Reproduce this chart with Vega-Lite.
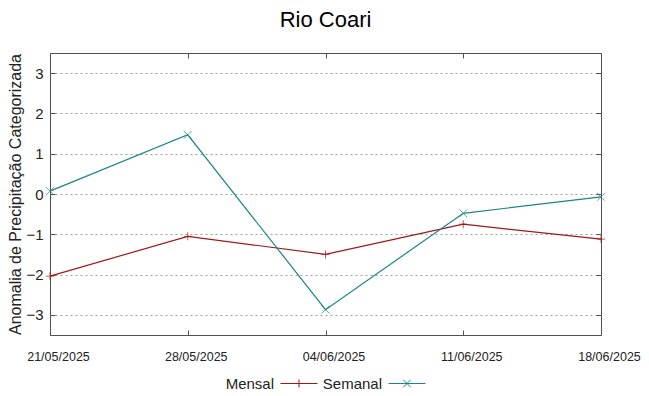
{
  "$schema": "https://vega.github.io/schema/vega-lite/v6.json",
  "autosize": {"type": "none"},
  "padding": {"left": 50, "top": 53, "right": 48, "bottom": 61},
  "width": 551,
  "height": 282,
  "title": {"text": "Rio Coari", "font": "Liberation Sans", "fontSize": 22, "fontWeight": "normal", "color": "#000000", "anchor": "middle", "offset": 21},
  "config": {
    "view": {"stroke": "#505050", "strokeWidth": 1},
    "font": "Liberation Sans",
    "axis": {"domain": false, "tickColor": "#505050", "tickSize": -5, "labelColor": "#222222", "titleColor": "#222222"}
  },
  "data": {"values": [
    {"data": "21/05/2025", "serie": "Mensal", "valor": -2.04},
    {"data": "28/05/2025", "serie": "Mensal", "valor": -1.05},
    {"data": "04/06/2025", "serie": "Mensal", "valor": -1.5},
    {"data": "11/06/2025", "serie": "Mensal", "valor": -0.75},
    {"data": "18/06/2025", "serie": "Mensal", "valor": -1.12},
    {"data": "21/05/2025", "serie": "Semanal", "valor": 0.07},
    {"data": "28/05/2025", "serie": "Semanal", "valor": 1.47},
    {"data": "04/06/2025", "serie": "Semanal", "valor": -2.87},
    {"data": "11/06/2025", "serie": "Semanal", "valor": -0.48},
    {"data": "18/06/2025", "serie": "Semanal", "valor": -0.07}
  ]},
  "encoding": {
    "x": {"field": "data", "type": "ordinal", "sort": null,
      "scale": {"type": "point", "padding": 0, "domain": ["21/05/2025", "28/05/2025", "04/06/2025", "11/06/2025", "18/06/2025"]}},
    "y": {"field": "valor", "type": "quantitative", "scale": {"domain": [-3.5, 3.5], "nice": false, "zero": false}}
  },
  "layer": [
    {
      "mark": {"type": "line", "strokeWidth": 1.2},
      "encoding": {
        "x": {"field": "data", "type": "ordinal", "sort": null,
          "axis": {"title": null, "labelAngle": 0, "labelFontSize": 12.5, "labelPadding": 20, "labelOffset": 8, "ticks": true}},
        "y": {"field": "valor", "type": "quantitative",
          "axis": {"title": "Anomalia de Precipitação Categorizada", "titleFontSize": 16, "titleFontWeight": "normal", "titlePadding": 2, "labelFontSize": 15, "labelPadding": 12, "values": [-3, -2, -1, 0, 1, 2, 3], "grid": true, "gridColor": "#a0a0a0", "gridDash": [2, 3], "gridWidth": 1}},
        "color": {"field": "serie", "type": "nominal", "scale": {"domain": ["Mensal", "Semanal"], "range": ["#a01818", "#1a8585"]},
          "legend": {"title": null, "orient": "none", "direction": "horizontal", "legendX": 230, "legendY": 311.5, "labelFontSize": 15, "labelColor": "#222222", "symbolSize": 1369, "symbolStrokeWidth": 1, "symbolFillColor": "transparent", "labelAlign": "right", "labelOffset": -44, "columnPadding": 2,
            "encode": {"symbols": {"update": {"shape": {"signal": "datum.value === 'Mensal' ? 'M-1,0H1M0,-0.22V0.22' : 'M-1,0H1M-0.2,-0.2L0.2,0.2M-0.2,0.2L0.2,-0.2'"}, "fill": {"value": "transparent"}}}}}}
      }
    },
    {
      "transform": [{"filter": "datum.serie === 'Mensal'"}],
      "mark": {"type": "point", "filled": false, "size": 64, "strokeWidth": 1, "shape": "M-1,0H1M0,-1V1"},
      "encoding": {
        "x": {"field": "data", "type": "ordinal", "sort": null, "axis": {"orient": "top", "labels": false, "title": null, "grid": false}},
        "y": {"field": "valor", "type": "quantitative", "axis": {"orient": "right", "labels": false, "title": null, "grid": false, "values": [-3, -2, -1, 0, 1, 2, 3]}},
        "color": {"field": "serie", "type": "nominal", "legend": null}
      }
    },
    {
      "transform": [{"filter": "datum.serie === 'Semanal'"}],
      "mark": {"type": "point", "filled": false, "size": 64, "strokeWidth": 1, "shape": "M-1,-1L1,1M-1,1L1,-1"},
      "encoding": {
        "x": {"field": "data", "type": "ordinal", "sort": null, "axis": null},
        "y": {"field": "valor", "type": "quantitative", "axis": null},
        "color": {"field": "serie", "type": "nominal", "legend": null}
      }
    }
  ],
  "resolve": {"axis": {"x": "independent", "y": "independent"}}
}
